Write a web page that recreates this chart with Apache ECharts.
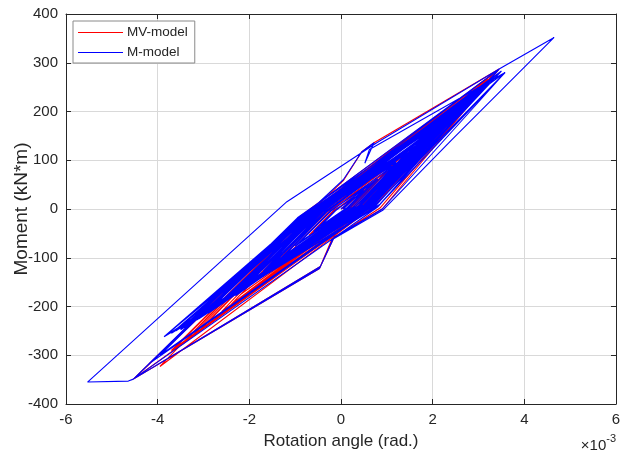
<!DOCTYPE html>
<html>
<head>
<meta charset="utf-8">
<script src="https://cdn.jsdelivr.net/npm/echarts@6/dist/echarts.min.js"></script>
<style>
  html, body { margin: 0; padding: 0; background: #fff; }
  #chart { width: 624px; height: 459px; }
</style>
</head>
<body>
<div id="chart"></div>
<script>
// Rotation angle in units of 1e-3 rad, moment in kN*m, as [rotation, moment] turning points.
const mvModel = [
  [0,0],[0.6,46],[0.15,2],[-0.55,-44],[-0.12,-2],
  [1.0,78],[0.22,3],[-1.1,-88],[-0.25,-4],
  [1.5,118],[0.32,5],[-1.7,-138],[-0.38,-6],
  [2.1,168],[0.45,7],[-2.4,-196],[-0.5,-8],
  [2.7,220],[0.58,9],[-3.1,-250],[-0.62,-10],
  [3.2,266],[0.68,10],[-3.7,-290],[-0.72,-12],
  [3.45,287],[0.9,0],[-0.15,-58],[-0.47,-122],[-4.53,-349],
  [-0.75,-14],[0.05,58],[0.45,117],[0.72,136],[3.45,287],[0.85,2],[-0.2,-62],[-0.45,-118],[-4.53,-349],
  [-0.8,-15],[3.35,280],[0.75,8],[-3.95,-323],[-0.75,-12],[3.1,256],[0.66,8],[-3.5,-280],[-0.7,-10],
  [2.9,238],[0.62,6],[-3.3,-265],[-0.65,-10],[3.45,287],[0.72,6],[-4.53,-349],[-0.85,-12],
  [3.2,268],[0.7,10],[-3.7,-292],[-0.72,-11],[2.6,212],[0.55,5],[-2.9,-232],[-0.6,-8],
  [2.4,194],[0.52,6],[-2.6,-210],[-0.55,-9],[2.0,160],[0.45,4],[-2.2,-176],[-0.48,-6],
  [1.6,128],[0.35,4],[-1.8,-142],[-0.4,-5],[1.2,95],[0.26,3],[-1.3,-102],[-0.28,-3],
  [0.8,62],[0.18,2],[-0.7,-54],[-0.14,-1],[0.3,22],[0.04,0]
];

const mModel = [
  [0,0],[0.5,38],[0.12,2],[-0.45,-35],[-0.1,-2],
  [0.8,62],[0.2,3],[-0.9,-68],[-0.2,-3],
  [1.3,100],[0.3,4],[-1.2,-92],[-0.3,-5],
  [1.7,135],[0.4,6],[-1.8,-140],[-0.4,-6],
  [2.2,176],[0.5,8],[-2.3,-178],[-0.5,-8],
  [2.8,226],[0.6,10],[-2.9,-214],[-0.6,-10],
  [3.2,262],[0.65,12],[-3.4,-238],[-0.7,-12],
  [3.58,280],[0.75,8],[-3.86,-262],[-0.7,-15],
  [3.3,270],[0.7,10],[-3.6,-250],[-0.65,-8],
  [3.58,280],[0.9,0],[-0.15,-58],[-0.47,-122],[-4.53,-349],[-4.64,-353],[-5.53,-355],
  [-1.18,15],[0.2,100],[0.78,136],[3.45,287],[4.65,352],[2.41,141.5],[0.92,-2],[-0.18,-62],[-0.45,-118],[-4.53,-349],
  [-0.75,-10],[0.05,60],[0.45,117],[0.72,136],[0.52,94],[0.62,122],[3.58,280],[0.8,5],[-3.86,-262],[-0.75,-12],
  [3.45,287],[0.7,10],[-3.2,-228],[-0.6,-12],[3.0,245],[0.6,8],[-3.86,-262],[-0.72,-14],
  [3.3,270],[0.75,6],[-4.2,-318],[-0.9,-16],[3.45,287],[0.8,4],[-4.53,-349],[-0.95,-18],
  [2.9,236],[0.66,14],[-3.3,-230],[-0.72,-16],[3.5,283],[0.8,12],[-3.86,-262],[-0.8,-18],
  [2.0,165],[0.38,10],[-2.3,-172],[-0.55,-12],[2.7,218],[0.7,15],[-2.9,-210],[-0.75,-15],
  [2.7,215],[0.55,10],[-2.6,-190],[-0.55,-10],[2.9,232],[0.62,6],[-3.0,-215],[-0.62,-8],
  [1.5,122],[0.45,10],[-1.7,-128],[-0.5,-10],[3.0,248],[0.75,14],[-3.5,-246],[-0.8,-14],
  [2.3,185],[0.48,6],[-2.4,-180],[-0.5,-9],[3.3,270],[0.7,12],[-3.5,-248],[-0.68,-10],
  [3.0,250],[0.7,6],[-3.95,-300],[-0.85,-14],
  [2.3,188],[0.62,12],[-2.6,-192],[-0.68,-14],[1.2,96],[0.4,8],[-1.4,-106],[-0.45,-9],
  [2.4,192],[0.52,7],[-2.7,-200],[-0.58,-9],[3.4,276],[0.72,9],[-3.7,-255],[-0.7,-11],
  [3.35,272],[0.85,10],[-3.86,-262],[-0.85,-16],[2.5,204],[0.66,12],[-2.2,-160],[-0.6,-12],
  [2.8,225],[0.6,5],[-3.1,-225],[-0.64,-9],[1.9,152],[0.42,6],[-2.1,-158],[-0.47,-7],
  [1.9,156],[0.58,10],[-2.4,-178],[-0.62,-11],[2.85,232],[0.72,10],[-3.15,-228],[-0.78,-13],
  [2.6,208],[0.56,8],[-3.3,-236],[-0.66,-11],[3.2,262],[0.68,7],[-3.86,-262],[-0.74,-13],
  [2.5,200],[0.5,5],[-2.0,-150],[-0.45,-8],[2.0,160],[0.45,8],[-2.8,-205],[-0.6,-12],
  [3.1,255],[0.65,6],[-3.86,-262],[-0.7,-8],[2.6,210],[0.55,4],[-2.5,-185],[-0.5,-6],
  [2.1,168],[0.46,5],[-1.9,-142],[-0.42,-6],[1.6,128],[0.36,4],[-1.5,-114],[-0.33,-5],
  [1.8,145],[0.4,5],[-1.6,-122],[-0.35,-5],[1.4,112],[0.3,4],[-1.3,-100],[-0.3,-4],
  [2.2,178],[0.5,9],[-2.2,-165],[-0.5,-7],[1.1,88],[0.25,3],[-1.0,-76],[-0.22,-3],
  [0.7,55],[0.15,2],[-0.6,-46],[-0.1,-1],[0.3,24],[0.05,0]
];

const seriesNames = ['MV-model', 'M-model'];
const seriesColors = ['#ff0000', '#0000ff'];
const xRange = [-6, 6, 2];
const yRange = [-400, 400, 100];

const textColor = '#262626';
const fontFamily = 'Liberation Sans, Arial, Helvetica, sans-serif';

const chart = echarts.init(document.getElementById('chart'), null, { renderer: 'canvas' });

// Shared look of the four box edges: dark line, short inward ticks.
const frameAxis = (extra) => Object.assign({
  type: 'value',
  axisLine: { show: true, onZero: false, lineStyle: { color: textColor, width: 1 } },
  axisTick: { show: true, inside: true, length: 5, lineStyle: { color: textColor } },
  axisLabel: { show: false },
  splitLine: { show: false }
}, extra);

chart.setOption({
  animation: false,
  backgroundColor: '#ffffff',
  textStyle: { fontFamily: fontFamily },
  grid: { left: 66, right: 8, top: 14, bottom: 55, containLabel: false, outerBoundsMode: 'none' },
  legend: {
    orient: 'vertical',
    left: 73, top: 21,
    padding: [4, 7, 3, 5],
    itemGap: 5,
    icon: 'rect',
    itemWidth: 45, itemHeight: 1.2,
    borderColor: '#8a8a8a', borderWidth: 1, borderRadius: 0,
    backgroundColor: '#ffffff',
    textStyle: { color: textColor, fontSize: 13.5, lineHeight: 15, fontFamily: fontFamily, padding: [0, 0, 0, -1] },
    data: seriesNames
  },
  xAxis: [
    frameAxis({
      position: 'bottom',
      min: xRange[0], max: xRange[1], interval: xRange[2],
      name: 'Rotation angle (rad.)',
      nameLocation: 'middle', nameGap: 29, nameMoveOverlap: false,
      nameTextStyle: { color: textColor, fontSize: 17, fontFamily: fontFamily },
      axisLabel: { show: true, color: textColor, fontSize: 15, margin: 8, fontFamily: fontFamily },
      splitLine: { show: true, lineStyle: { color: '#d9d9d9', width: 1 } }
    }),
    frameAxis({ position: 'top', min: xRange[0], max: xRange[1], interval: xRange[2] })
  ],
  yAxis: [
    frameAxis({
      position: 'left',
      min: yRange[0], max: yRange[1], interval: yRange[2],
      name: 'Moment (kN*m)',
      nameLocation: 'middle', nameGap: 35, nameMoveOverlap: false,
      nameTextStyle: { color: textColor, fontSize: 19, fontFamily: fontFamily },
      axisLabel: { show: true, color: textColor, fontSize: 15, margin: 8, fontFamily: fontFamily },
      splitLine: { show: true, lineStyle: { color: '#d9d9d9', width: 1 } }
    }),
    frameAxis({ position: 'right', min: yRange[0], max: yRange[1], interval: yRange[2] })
  ],
  graphic: [{
    type: 'text',
    right: 8, top: 433,
    style: {
      text: '{a|×10}{b|-3}',
      rich: {
        a: { fontSize: 15, fill: textColor, fontFamily: fontFamily, verticalAlign: 'bottom', lineHeight: 20 },
        b: { fontSize: 11, fill: textColor, fontFamily: fontFamily, verticalAlign: 'top', lineHeight: 20, padding: [0, 0, 9, 0] }
      }
    }
  }],
  series: [
    {
      name: seriesNames[0], type: 'line', data: mvModel,
      symbol: 'none', clip: true,
      lineStyle: { color: seriesColors[0], width: 1.1 },
      itemStyle: { color: seriesColors[0] }
    },
    {
      name: seriesNames[1], type: 'line', data: mModel,
      symbol: 'none', clip: true,
      lineStyle: { color: seriesColors[1], width: 1.1 },
      itemStyle: { color: seriesColors[1] }
    }
  ]
});
</script>
</body>
</html>
